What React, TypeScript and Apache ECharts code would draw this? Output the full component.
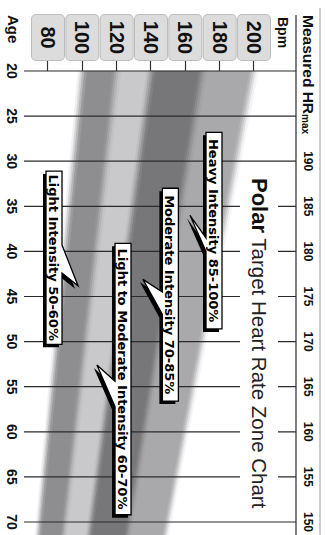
import React, { useEffect, useRef } from 'react';
import * as echarts from 'echarts';

// ---------- data ----------
const ageTicks = [20, 25, 30, 35, 40, 45, 50, 55, 60, 65, 70];
const hrMax = [200, 195, 190, 185, 180, 175, 170, 165, 160, 155, 150];
const hrMaxLabels = ['', '', '190', '185', '180', '175', '170', '165', '160', '155', '150'];
const bpmTicks = [80, 100, 120, 140, 160, 180, 200];
const zoneBounds = [50, 60, 70, 85, 100];
const zoneNames = [
  'Light Intensity 50-60%',
  'Light to Moderate Intensity 60-70%',
  'Moderate Intensity 70-85%',
  'Heavy Intensity 85-100%',
];

// ---------- styling / layout ----------
const zoneColors = ['#8e8e91', '#c9c9cb', '#77777a', '#a9a9ac'];
// callout anchors in data units: [age from, age to] of box, bpm of box centre, tip [age,bpm], pointer base ages
const calloutBoxAge = [[31.1, 50.3], [39.1, 69.2], [33.0, 56.6], [26.8, 48.6]];
const calloutBoxBpm = [83.5, 123.7, 151.3, 176.7];
const calloutTip = [[43.8, 97.5], [52.6, 108.5], [43.1, 135.3], [36.0, 162.7]];
const calloutBase = [[39.3, 42.4], [54.4, 57.2], [44.5, 47.0], [38.5, 40.0]];

const SANS = '"Liberation Sans", Arial, sans-serif';

function hex(c: string) {
  return [1, 3, 5].map((i) => parseInt(c.slice(i, i + 2), 16));
}
function mix(a: string, b: string, t: number) {
  const A = hex(a), B = hex(b);
  const r = A.map((v, i) => Math.round(v + (B[i] - v) * t));
  return 'rgb(' + r.join(',') + ')';
}

type Seg = { lo: number; hi: number; color: string };
const EDGE = 1.3;
const STEPS = 4;
const segments: Seg[] = [];
for (let i = 0; i < zoneColors.length; i++) {
  segments.push({ lo: zoneBounds[i], hi: zoneBounds[i + 1], color: zoneColors[i] });
}
for (let j = 0; j < zoneBounds.length; j++) {
  const left = j === 0 ? '#ffffff' : zoneColors[j - 1];
  const right = j === zoneBounds.length - 1 ? '#ffffff' : zoneColors[j];
  const step = (2 * EDGE) / STEPS;
  for (let s = 0; s < STEPS; s++) {
    const lo = zoneBounds[j] - EDGE + s * step;
    segments.push({ lo, hi: lo + step, color: mix(left, right, (s + 0.5) / STEPS) });
  }
}

function buildOption(): any {
  return {
    animation: false,
    backgroundColor: '#ffffff',
    grid: { left: 71, right: 8, top: 71, bottom: 48 },
    xAxis: [
      {
        type: 'value',
        position: 'bottom',
        min: 20,
        max: 70,
        interval: 5,
        axisLine: { show: false },
        axisTick: { show: false },
        splitLine: { show: false },
        axisLabel: {
          margin: 29,
          fontFamily: SANS,
          fontWeight: 'bold',
          fontSize: 14,
          color: '#111',
          formatter: (v: number) => (ageTicks.includes(v) ? String(v) : ''),
        },
      },
      {
        type: 'value',
        position: 'top',
        min: 20,
        max: 70,
        interval: 5,
        axisLine: { show: false },
        axisTick: { show: false },
        splitLine: { show: false },
        axisLabel: {
          margin: 48,
          fontFamily: SANS,
          fontWeight: 'bold',
          fontSize: 12,
          color: '#111',
          formatter: (v: number) => {
            const i = ageTicks.indexOf(v);
            return i >= 0 ? hrMaxLabels[i] : '';
          },
        },
      },
    ],
    yAxis: {
      type: 'value',
      min: 80,
      max: 200,
      interval: 20,
      axisLine: { show: false },
      axisTick: { show: true, length: 11, lineStyle: { color: '#333', width: 1.2 } },
      splitLine: { show: false },
      axisLabel: {
        margin: 11,
        formatter: (v: number) => (bpmTicks.includes(v) ? '{v|' + v + '}' : ''),
        rich: {
          v: {
            width: 45,
            height: 32,
            lineHeight: 32,
            align: 'center',
            verticalAlign: 'middle',
            backgroundColor: '#dcdcdc',
            borderColor: '#bdbdbd',
            borderWidth: 1,
            borderRadius: 4,
            fontFamily: SANS,
            fontWeight: 'bold',
            fontSize: 20,
            color: '#111',
          },
        },
      },
    },
    series: [
      {
        type: 'custom',
        name: 'zones',
        clip: false,
        z: 1,
        data: segments.map((_, i) => [i, i]),
        renderItem: (params: any, api: any) => {
          const seg = segments[params.dataIndex];
          const lo = ageTicks.map((a, i) => api.coord([a, (seg.lo / 100) * hrMax[i]]));
          const hi = ageTicks.map((a, i) => api.coord([a, (seg.hi / 100) * hrMax[i]]));
          const ext = (pts: number[][]) => {
            const n = pts.length;
            const a = pts[n - 2], b = pts[n - 1];
            return [b[0] + (b[0] - a[0]) * 0.4, b[1] + (b[1] - a[1]) * 0.4];
          };
          const points = [...lo, ext(lo), ext(hi), ...hi.slice().reverse()];
          return {
            type: 'polygon',
            shape: { points },
            style: { fill: seg.color, stroke: seg.color, lineWidth: 0.3 },
          };
        },
      },
      {
        type: 'custom',
        name: 'ageLines',
        clip: false,
        z: 3,
        data: ageTicks.map((a) => [a, 100]),
        renderItem: (params: any, api: any) => {
          const x = api.coord([api.value(0), 100])[0];
          const cs = params.coordSys;
          return {
            type: 'line',
            shape: { x1: x, y1: cs.y - 42, x2: x, y2: cs.y + cs.height + 24 },
            style: { stroke: '#2b2b2b', lineWidth: 1.2 },
          };
        },
      },
      {
        type: 'custom',
        name: 'callouts',
        clip: false,
        z: 5,
        data: zoneNames.map((_, i) => [i, i]),
        renderItem: (params: any, api: any) => {
          const i = params.dataIndex;
          const [a0, a1] = calloutBoxAge[i];
          const p0 = api.coord([a0, calloutBoxBpm[i]]);
          const p1 = api.coord([a1, calloutBoxBpm[i]]);
          const cy = p0[1];
          const h = 16;
          const top = cy - h / 2, bot = cy + h / 2;
          const x0 = p0[0], x1 = p1[0];
          const tip = api.coord(calloutTip[i]);
          const b0 = api.coord([calloutBase[i][0], calloutBoxBpm[i]])[0];
          const b1 = api.coord([calloutBase[i][1], calloutBoxBpm[i]])[0];
          let pts: number[][];
          if (tip[1] > bot) {
            pts = [[x0, top], [x1, top], [x1, bot], [b1, bot], tip, [b0, bot], [x0, bot]];
          } else {
            pts = [[x0, top], [b0, top], tip, [b1, top], [x1, top], [x1, bot], [x0, bot]];
          }
          const shadow = pts.map((p) => [p[0] + 3, p[1] + 3]);
          return {
            type: 'group',
            children: [
              { type: 'polygon', shape: { points: shadow }, style: { fill: '#000' } },
              { type: 'polygon', shape: { points: pts }, style: { fill: '#fff', stroke: '#000', lineWidth: 1.3 } },
              {
                type: 'text',
                x: (x0 + x1) / 2,
                y: cy + 0.5,
                style: {
                  text: zoneNames[i],
                  fill: '#000',
                  fontFamily: '"DejaVu Sans", sans-serif',
                  fontWeight: 'bold',
                  fontSize: 13,
                  align: 'center',
                  verticalAlign: 'middle',
                },
              },
            ],
          };
        },
      },
    ],
    graphic: [
      { type: 'line', z: 50, shape: { x1: 15, y1: 29, x2: 535, y2: 29 }, style: { stroke: '#2b2b2b', lineWidth: 1.2 } },
      { type: 'line', z: 50, shape: { x1: 8, y1: 5, x2: 535, y2: 5 }, style: { stroke: '#9a9a9a', lineWidth: 1 } },
      {
        type: 'text',
        z: 100,
        x: 174,
        y: 66,
        style: {
          text: '{b|Polar}{r| Target Heart Rate Zone Chart}',
          backgroundColor: '#ffffff',
          padding: [7, 4, 7, 4],
          verticalAlign: 'middle',
          align: 'left',
          rich: {
            b: { fontFamily: SANS, fontWeight: 'bold', fontSize: 22, fill: '#111', lineHeight: 24 },
            r: { fontFamily: SANS, fontWeight: 'normal', fontSize: 20.5, fill: '#222', lineHeight: 24 },
          },
        },
      },
      {
        type: 'text',
        z: 100,
        x: 15,
        y: 17,
        style: {
          text: '{a|Measured HR}{s|max}',
          verticalAlign: 'middle',
          align: 'left',
          rich: {
            a: { fontFamily: SANS, fontWeight: 'bold', fontSize: 15.5, fill: '#111', lineHeight: 16 },
            s: { fontFamily: SANS, fontWeight: 'bold', fontSize: 10, fill: '#111', lineHeight: 16, verticalAlign: 'bottom' },
          },
        },
      },
      {
        type: 'text',
        z: 100,
        x: 17,
        y: 42,
        style: { text: 'Bpm', fontFamily: SANS, fontWeight: 'bold', fontSize: 14, fill: '#111', align: 'left', verticalAlign: 'middle' },
      },
      {
        type: 'text',
        z: 100,
        x: 15,
        y: 312,
        style: { text: 'Age', fontFamily: SANS, fontWeight: 'bold', fontSize: 15, fill: '#111', align: 'left', verticalAlign: 'middle' },
      },
    ],
  };
}

export default function App() {
  const ref = useRef<HTMLDivElement>(null);
  useEffect(() => {
    const chart = echarts.init(ref.current as HTMLDivElement, undefined, { renderer: 'svg' });
    chart.setOption(buildOption());
    return () => chart.dispose();
  }, []);
  return (
    <div
      ref={ref}
      style={{
        position: 'absolute',
        left: 0,
        top: 0,
        width: 535,
        height: 325,
        transformOrigin: '0 0',
        transform: 'translate(325px, 0px) rotate(90deg)',
        background: '#ffffff',
      }}
    />
  );
}
